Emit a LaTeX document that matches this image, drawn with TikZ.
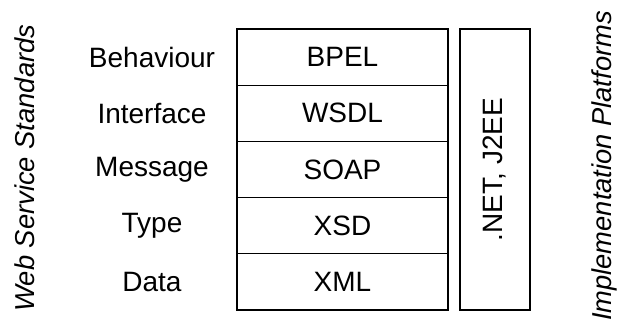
\documentclass[tikz,border=0pt]{standalone}
\usepackage{fontspec}
\setmainfont{Liberation Sans}
\usetikzlibrary{positioning}
\tikzset{
    %Define style for the stack boxes
    layer/.style={
           rectangle,
           draw=black,
           line width=0.8pt,
           minimum width=158.25pt,
           minimum height=42.15pt,
           inner sep=0pt,
           outer sep=0pt},
    %Define style for the layer names
    lbl/.style={
           inner sep=0pt},
    % Define style for the side captions
    side/.style={
           rotate=90,
           font=\fontsize{20.5}{25}\selectfont\itshape,
           inner sep=0pt}
}
\begin{document}
\begin{tikzpicture}[x=0.75pt,y=-0.75pt,node distance=0pt,every node/.style={font=\fontsize{21}{25}\selectfont}]
  \useasboundingbox (0,0) rectangle (617,327);
  \node[layer,anchor=north west] (bpel) at (237,29) {BPEL};
  \node[layer,below=of bpel] (wsdl) {WSDL};
  \node[layer,below=of wsdl] (soap) {SOAP};
  \node[layer,below=of soap] (xsd) {XSD};
  \node[layer,below=of xsd] (xml) {XML};
  \node[layer,minimum width=52.5pt,minimum height=210.75pt,anchor=north west] (platform) at (460,29) {};
  \node[rotate=90] (net) at (platform) {.NET, J2EE};
  \coordinate (labx) at (152,0);
  \node[lbl] (behaviour) at (bpel -| labx) {Behaviour};
  \node[lbl] (interface) at (wsdl -| labx) {Interface};
  \node[lbl] (message) at (soap -| labx) {Message};
  \node[lbl] (type) at (xsd -| labx) {Type};
  \node[lbl] (data) at (xml -| labx) {Data};
  \node[side] (standards) at (25,168) {Web Service Standards};
  \node[side] (platforms) at (604,166) {Implementation Platforms};
\end{tikzpicture}
\end{document}
